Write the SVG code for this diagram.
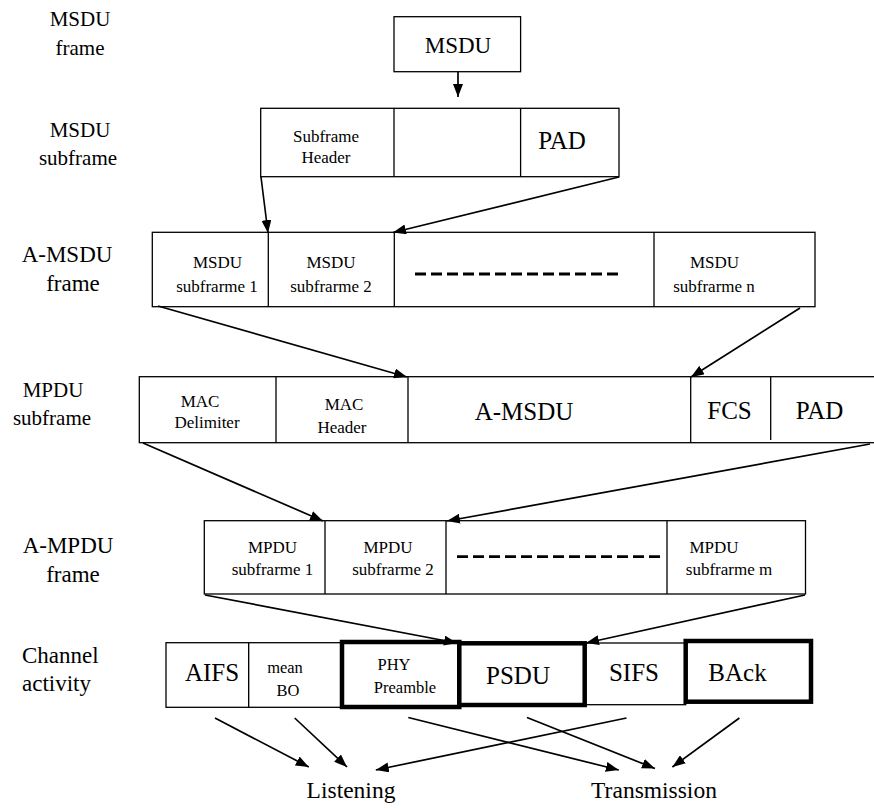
<svg xmlns="http://www.w3.org/2000/svg" width="874" height="809" viewBox="0 0 874 809">
<style>
text{font-family:"Liberation Serif","Times New Roman",serif;fill:#000;text-anchor:middle}
.lbl{font-size:21px}
.lbl2{font-size:23px}
.big{font-size:25px}
.sm{font-size:17px}
.box{fill:#fff;stroke:#000;stroke-width:1.3}
.thick{fill:#fff;stroke:#000;stroke-width:4.5}
.div{stroke:#000;stroke-width:1.3;fill:none}
.dash{stroke:#000;stroke-width:2.8;stroke-dasharray:11 5;fill:none}
.arr{stroke:#000;stroke-width:1.7;fill:none;marker-end:url(#ah)}
</style>
<defs>
<marker id="ah" markerUnits="userSpaceOnUse" markerWidth="13" markerHeight="10" refX="13" refY="5" orient="auto">
<path d="M0,0 L13,5 L0,10 z" fill="#000"/>
</marker>
</defs>
<rect width="874" height="809" fill="#fff"/>

<g id="row-labels">
<text class="lbl" x="80" y="26">MSDU</text>
<text class="lbl" x="80" y="55">frame</text>
<text class="lbl" x="80" y="137">MSDU</text>
<text class="lbl" x="78" y="165">subframe</text>
<text class="lbl2" x="67" y="262">A-MSDU</text>
<text class="lbl2" x="73" y="291">frame</text>
<text class="lbl" x="53" y="397">MPDU</text>
<text class="lbl" x="52" y="425">subframe</text>
<text class="lbl2" x="68" y="553">A-MPDU</text>
<text class="lbl2" x="73" y="582">frame</text>
<text class="lbl2" x="22" y="663" style="text-anchor:start">Channel</text>
<text class="lbl2" x="22" y="691" style="text-anchor:start">activity</text>
</g>

<g id="msdu">
<rect class="box" x="394" y="16.7" width="126.6" height="55"/>
<text style="font-size:23px" x="458" y="53">MSDU</text>
</g>

<g id="msdu-subframe">
<rect class="box" x="260.7" y="108.3" width="358.3" height="68.4"/>
<path class="div" d="M394,108.3V176.7M520.6,108.3V176.7"/>
<text class="sm" x="326" y="142">Subframe</text>
<text class="sm" x="326" y="163">Header</text>
<text class="big" x="562" y="149">PAD</text>
</g>

<g id="a-msdu-frame">
<rect class="box" x="152.3" y="232.3" width="662.7" height="74.4"/>
<path class="div" d="M268.3,232.3V306.7M394.3,232.3V306.7M654,232.3V306.7"/>
<text class="sm" x="217.5" y="268">MSDU</text>
<text class="sm" x="217" y="291.5">subfrarme 1</text>
<text class="sm" x="331" y="268">MSDU</text>
<text class="sm" x="331" y="291.5">subfrarme 2</text>
<path class="dash" d="M415,274H619"/>
<text class="sm" x="714.5" y="268">MSDU</text>
<text class="sm" x="714" y="291.5">subfrarme n</text>
</g>

<g id="mpdu-subframe">
<rect class="box" x="139.3" y="376.7" width="745" height="66"/>
<path class="div" d="M276,376.7V442.7M408,376.7V442.7M690.7,376.7V442.7M770.7,376.7V440"/>
<text class="sm" x="200" y="407">MAC</text>
<text class="sm" x="207" y="428">Delimiter</text>
<text class="sm" x="344" y="410">MAC</text>
<text class="sm" x="342" y="433">Header</text>
<text class="big" x="524" y="420">A-MSDU</text>
<text class="big" x="729.5" y="418.5">FCS</text>
<text class="big" x="819.5" y="418.5">PAD</text>
</g>

<g id="a-mpdu-frame">
<rect class="box" x="204.3" y="520.7" width="601.2" height="73.3"/>
<path class="div" d="M325,520.7V594M446,520.7V594M667,520.7V594"/>
<text class="sm" x="272.5" y="552.5">MPDU</text>
<text class="sm" x="272.5" y="575">subfrarme 1</text>
<text class="sm" x="388" y="552.5">MPDU</text>
<text class="sm" x="393" y="575">subfrarme 2</text>
<path class="dash" d="M457,556.7H663"/>
<text class="sm" x="714" y="552.5">MPDU</text>
<text class="sm" x="729" y="575">subfrarme m</text>
</g>

<g id="channel">
<g id="aifs"><rect class="box" x="166" y="642.7" width="82.7" height="64.6"/>
<text class="big" x="212" y="681">AIFS</text></g>
<g id="mean-bo"><rect class="box" x="248.7" y="642.7" width="93.3" height="64.6"/>
<text style="font-size:16.5px" x="285" y="673">mean</text>
<text style="font-size:16.5px" x="288" y="696">BO</text></g>
<g id="sifs"><rect class="box" x="584.7" y="643" width="101" height="61.7"/>
<text class="big" x="634" y="681">SIFS</text></g>
<g id="phy"><rect class="thick" x="342" y="642" width="117.3" height="65"/>
<text style="font-size:16.5px" x="394" y="670">PHY</text>
<text style="font-size:16.5px" x="405" y="693">Preamble</text></g>
<g id="psdu"><rect class="thick" x="459.3" y="643.3" width="125.4" height="61.7"/>
<text class="big" x="518" y="684">PSDU</text></g>
<g id="back"><rect class="thick" x="685.7" y="641" width="125.3" height="60.7"/>
<text class="big" x="737.5" y="681">BAck</text></g>
</g>

<g id="outcomes">
<text style="font-size:23.5px" x="351" y="798">Listening</text>
<text style="font-size:23.5px" x="654" y="798">Transmission</text>
</g>

<g id="connectors">
<path class="arr" d="M458,72V97"/>
<path class="arr" d="M261,177L268,233"/>
<path class="arr" d="M619,177L393,232.5"/>
<path class="arr" d="M158,306L407,377"/>
<path class="arr" d="M800,308L691,377"/>
<path class="arr" d="M143,443L323,521"/>
<path class="arr" d="M870,444L447,521"/>
<path class="arr" d="M205,595L457,643"/>
<path class="arr" d="M805,595L586,643"/>
<path class="arr" d="M215,718L308.8,767"/>
<path class="arr" d="M294.7,718L347,767"/>
<path class="arr" d="M408.3,717.5L618.8,770"/>
<path class="arr" d="M527,717.5L655,768.5"/>
<path class="arr" d="M626.5,718L375.8,770"/>
<path class="arr" d="M739.4,718L672.4,767"/>
</g>
</svg>
